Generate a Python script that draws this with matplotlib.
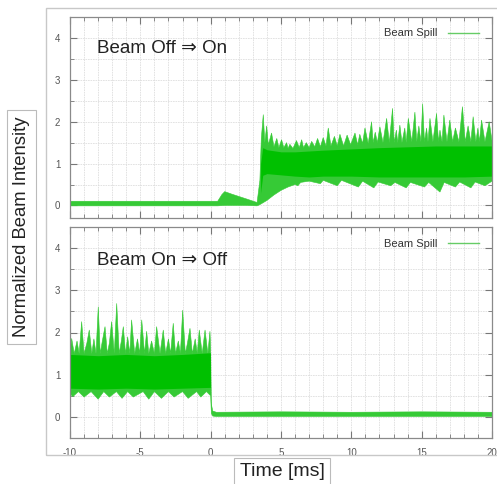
import numpy as np
import matplotlib.pyplot as plt
from matplotlib.patches import Rectangle
from matplotlib.ticker import MultipleLocator

plt.rcParams['font.family'] = ['Liberation Sans', 'DejaVu Sans']
plt.rcParams['axes.unicode_minus'] = False

GREEN = '#00c000'
LIGHT = '#36ca36'

# ---- upper panel: beam off -> on (edges of the trace bundle) ----
# top edge of the bundle, left to right
up_top_t = [-10, 0.5, 0.8, 1.0, 1.5, 2.5, 3.3, 3.5, 3.6, 3.74, 3.85, 3.98, 4.1, 4.33, 4.5, 4.7, 4.85,
            5.04, 5.2, 5.4, 5.5, 5.63, 5.85, 6.1, 6.3, 6.47, 6.6, 6.8, 7.0, 7.18, 7.4, 7.6, 7.8,
            8.0, 8.2, 8.36, 8.55, 8.8, 9.0, 9.19, 9.45, 9.7, 9.95, 10.26, 10.45, 10.6, 10.8,
            10.97, 11.2, 11.44, 11.55, 11.7, 11.85, 12.03, 12.25, 12.51, 12.7, 12.93, 13.05,
            13.2, 13.3, 13.45, 13.6, 13.8, 13.9, 14.05, 14.3, 14.52, 14.65, 14.8, 14.95, 15.07,
            15.2, 15.35, 15.45, 15.59, 15.8, 16.06, 16.2, 16.3, 16.45, 16.58, 16.8, 17.0, 17.2,
            17.4, 17.65, 17.9, 18.1, 18.3, 18.5, 18.66, 18.85, 19.0, 19.1, 19.26, 19.5, 19.8, 20]
up_top_v = [0.1, 0.1, 0.26, 0.33, 0.27, 0.16, 0.07, 0.6, 1.6, 2.17, 1.5, 1.9, 1.45, 1.73, 1.4, 1.6, 1.38,
            1.57, 1.38, 1.5, 1.36, 1.46, 1.36, 1.55, 1.38, 1.57, 1.38, 1.5, 1.38, 1.53, 1.4, 1.6, 1.4,
            1.62, 1.42, 1.85, 1.42, 1.65, 1.42, 1.7, 1.42, 1.68, 1.45, 1.73, 1.45, 1.7, 1.48,
            1.85, 1.48, 2.0, 1.5, 1.75, 1.5, 1.88, 1.5, 2.08, 1.5, 2.32, 1.5,
            1.8, 1.5, 1.92, 1.5, 1.85, 1.5, 2.08, 1.52, 2.23, 1.52, 1.9, 1.52, 2.43,
            1.52, 1.85, 1.52, 2.08, 1.52, 2.2, 1.52, 1.8, 1.52, 2.16, 1.52, 2.04, 1.52,
            1.85, 1.52, 2.36, 1.52, 1.9, 1.52, 2.12, 1.52, 1.85, 1.52, 2.04, 1.52, 2.0, 1.55]
# bottom edge of the bundle, right to left
up_bot_t = [20, 19.5, 18.8, 18.5, 17.7, 17.4, 16.6, 16.3, 15.5, 15.2, 14.2, 13.9, 13.1, 12.8, 11.9,
            11.6, 10.8, 10.5, 9.3, 9.0, 8.0, 7.8, 7.0, 6.4, 6.2, 6.0, 5.5, 5.0, 4.5, 4.0, 3.7,
            3.5, 3.3, 2.5, 1.0, 0.5, -10]
up_bot_v = [0.58, 0.47, 0.56, 0.42, 0.56, 0.44, 0.55, 0.32, 0.55, 0.44, 0.55, 0.42, 0.55, 0.47, 0.56,
            0.42, 0.58, 0.44, 0.6, 0.47, 0.6, 0.52, 0.58, 0.55, 0.47, 0.5, 0.44, 0.36, 0.25, 0.12, 0.06,
            0.02, -0.01, 0.0, 0.0, -0.01, -0.01]
# dense core of the bundle
core_up_t = [3.55, 3.7, 4, 5, 6, 7, 8, 10, 12, 14, 16, 18, 20]
core_up_lo = [0.3, 0.72, 0.76, 0.73, 0.7, 0.68, 0.7, 0.7, 0.68, 0.68, 0.68, 0.68, 0.7]
core_up_hi = [1.0, 1.38, 1.33, 1.28, 1.28, 1.3, 1.32, 1.35, 1.38, 1.4, 1.42, 1.42, 1.42]

# ---- lower panel: beam on -> off ----
dn_top_t = [-10, -9.88, -9.7, -9.5, -9.35, -9.17, -9.0, -8.8, -8.63, -8.45, -8.3, -8.15, -7.99, -7.85,
            -7.7, -7.51, -7.35, -7.2, -7.04, -6.85, -6.68, -6.5, -6.35, -6.21, -6.05, -5.9, -5.75,
            -5.62, -5.4, -5.2, -5.05, -4.9, -4.7, -4.55, -4.4, -4.2, -4.0, -3.84, -3.6, -3.37, -3.2,
            -3.0, -2.85, -2.66, -2.5, -2.3, -2.15, -1.99, -1.8, -1.65, -1.47, -1.3, -1.1, -0.95,
            -0.81, -0.6, -0.4, -0.2, -0.05, 0.0, 0.05, 0.15, 0.4, 5, 10, 15, 20]
dn_top_v = [1.5, 1.86, 1.5, 1.8, 1.5, 2.26, 1.5, 1.75, 2.06, 1.5, 1.85, 1.5, 2.61, 1.5,
            1.8, 2.14, 1.5, 1.75, 2.26, 1.5, 2.69, 1.5, 1.8, 2.14, 1.5, 1.9, 1.5,
            2.3, 1.5, 1.85, 1.5, 2.3, 1.5, 2.03, 1.5, 1.8, 1.5, 2.14, 1.5, 2.06, 1.5,
            1.85, 1.5, 2.22, 1.5, 1.8, 1.5, 2.53, 1.5, 1.75, 2.1, 1.5, 1.85, 1.5,
            2.06, 1.5, 2.06, 1.5, 2.03, 1.6, 0.3, 0.14, 0.11, 0.12, 0.11, 0.12, 0.11]
dn_bot_t = [20, 0.4, 0.15, 0.05, 0.0, -0.3, -0.7, -1.0, -1.6, -2.0, -2.6, -3.0, -3.5, -4.0, -4.4,
            -4.8, -5.5, -5.9, -6.3, -6.7, -7.2, -7.6, -8.0, -8.5, -9.0, -9.4, -9.8, -10]
dn_bot_v = [0.01, 0.01, 0.02, 0.08, 0.5, 0.6, 0.47, 0.6, 0.44, 0.6, 0.47, 0.6, 0.44, 0.6, 0.42,
            0.6, 0.47, 0.6, 0.44, 0.6, 0.47, 0.6, 0.42, 0.6, 0.47, 0.6, 0.48, 0.55]
core_dn_t = [-10, -8, -6, -4, -2, -0.02]
core_dn_lo = [0.68, 0.66, 0.68, 0.66, 0.68, 0.7]
core_dn_hi = [1.48, 1.45, 1.48, 1.45, 1.48, 1.52]

fig = plt.figure(figsize=(4.97, 4.84), dpi=100)
fig.patches.append(Rectangle((46 / 497, 1 - 455 / 484), 460 / 497, 447 / 484,
                             transform=fig.transFigure, fill=False,
                             edgecolor='#c8c8c8', lw=1))

ax1 = fig.add_axes([70 / 497, 1 - 218 / 484, 422 / 497, 201 / 484])
ax2 = fig.add_axes([70 / 497, 1 - 438 / 484, 422 / 497, 211 / 484])


def style(ax, ylo):
    ax.set_xlim(-10, 20)
    ax.set_ylim(ylo, 4.5)
    ax.xaxis.set_major_locator(MultipleLocator(5))
    ax.xaxis.set_minor_locator(MultipleLocator(1))
    ax.yaxis.set_major_locator(MultipleLocator(1))
    ax.yaxis.set_minor_locator(MultipleLocator(0.5))
    ax.set_yticks([0, 1, 2, 3, 4])
    ax.grid(True, which='both', color='#dedede', lw=0.6, ls=(0, (2, 1)))
    ax.set_axisbelow(True)
    ax.tick_params(which='both', direction='in', top=True, right=True,
                   colors='#777777', labelcolor='#555555', labelsize=7)
    ax.tick_params(which='major', length=5, pad=7)
    ax.tick_params(which='minor', length=3)
    for s in ax.spines.values():
        s.set_color('#8a8a8a')
        s.set_linewidth(0.9)
    ax.plot([], [], color='#66cc66', lw=1, label='Beam Spill')
    leg = ax.legend(loc='upper right', bbox_to_anchor=(0.98, 0.965), frameon=False,
                    markerfirst=False, fontsize=8, handlelength=2.8,
                    borderaxespad=0, handletextpad=1.0)
    for t in leg.get_texts():
        t.set_color('#333333')


style(ax1, -0.3)
style(ax2, -0.5)
ax1.tick_params(labelbottom=False)

# upper traces
ax1.fill(up_top_t + up_bot_t, up_top_v + up_bot_v, color=LIGHT, lw=0.4)
ax1.fill_between(core_up_t, core_up_lo, core_up_hi, color=GREEN, lw=0)

# lower traces
ax2.fill(dn_top_t + dn_bot_t, dn_top_v + dn_bot_v, color=LIGHT, lw=0.4)
ax2.fill_between(core_dn_t, core_dn_lo, core_dn_hi, color=GREEN, lw=0)

ax1.text(0.065, 0.845, 'Beam Off \u21d2 On', transform=ax1.transAxes,
         fontsize=13.5, color='#222222', va='center')
ax2.text(0.065, 0.84, 'Beam On \u21d2 Off', transform=ax2.transAxes,
         fontsize=13.5, color='#222222', va='center')

fig.text(21.5 / 497, 1 - 227 / 484, 'Normalized Beam Intensity', rotation=90,
         ha='center', va='center', fontsize=13.3, color='#222222',
         bbox=dict(boxstyle='square,pad=0.35', fc='white', ec='#bbbbbb', lw=0.8))
fig.text(282 / 497, 1 - 472 / 484, 'Time [ms]', ha='center', va='center',
         fontsize=14, color='#222222',
         bbox=dict(boxstyle='square,pad=0.3', fc='white', ec='#bbbbbb', lw=0.8))

fig.savefig('out.png', dpi=100)
